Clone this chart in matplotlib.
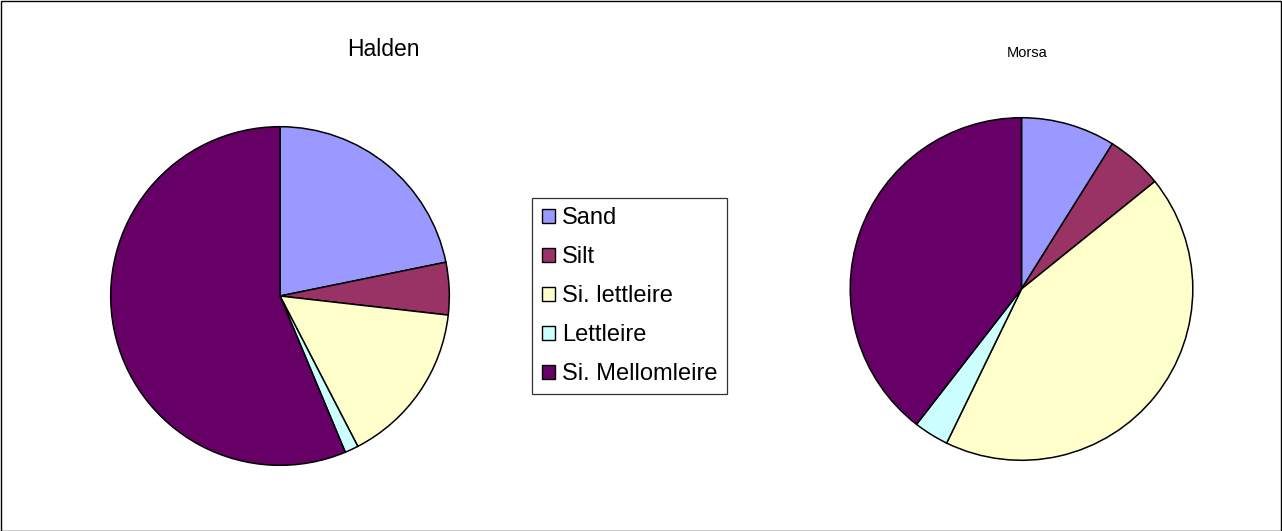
import matplotlib.pyplot as plt
from matplotlib.patches import Patch, Rectangle

plt.rcParams['font.family'] = ['Liberation Sans', 'DejaVu Sans']

categories = ["Sand", "Silt", "Si. lettleire", "Lettleire", "Si. Mellomleire"]
colors = ["#9999FF", "#993366", "#FFFFCC", "#CCFFFF", "#660066"]

halden = [21.8, 5.0, 15.6, 1.3, 56.3]
morsa = [8.9, 5.3, 43.0, 3.3, 39.5]

W, H = 1282, 531
fig = plt.figure(figsize=(W / 100, H / 100), dpi=100)


def pie_axes(cx, cy, r):
    # pixel centre / radius -> figure coords
    return fig.add_axes([(cx - r) / W, (H - cy - r) / H, 2 * r / W, 2 * r / H])


ax1 = pie_axes(280, 296, 171)
ax1.pie(halden, colors=colors, startangle=90, counterclock=False, radius=1,
        wedgeprops=dict(edgecolor="black", linewidth=1.1))
ax1.set_xlim(-1.01, 1.01)
ax1.set_ylim(-1.01, 1.01)
ax1.axis("off")

ax2 = pie_axes(1021.5, 289, 173)
ax2.pie(morsa, colors=colors, startangle=90, counterclock=False, radius=1,
        wedgeprops=dict(edgecolor="black", linewidth=1.1))
ax2.set_xlim(-1.01, 1.01)
ax2.set_ylim(-1.01, 1.01)
ax2.axis("off")

fig.text(383 / W, 1 - 50 / H, "Halden", ha="center", va="center", fontsize=16.5)
fig.text(1027 / W, 1 - 53 / H, "Morsa", ha="center", va="center", fontsize=10.5)

handles = [Patch(facecolor=c, edgecolor="black", linewidth=1.0) for c in colors]
leg = fig.legend(handles, categories, loc="center",
                 bbox_to_anchor=(629.5 / W, 1 - 296 / H),
                 fontsize=17, frameon=True, fancybox=False,
                 handlelength=0.55, handleheight=0.55, handletextpad=0.3,
                 labelspacing=0.72, borderpad=0.4, borderaxespad=0)
leg.get_frame().set_edgecolor("black")
leg.get_frame().set_linewidth(0.9)

fig.patches.append(Rectangle((0.5 / W, 0.5 / H), 1 - 1.5 / W, 1 - 1.5 / H,
                             transform=fig.transFigure, fill=False,
                             edgecolor="black", linewidth=1.0))

fig.savefig("out.png", dpi=100)
